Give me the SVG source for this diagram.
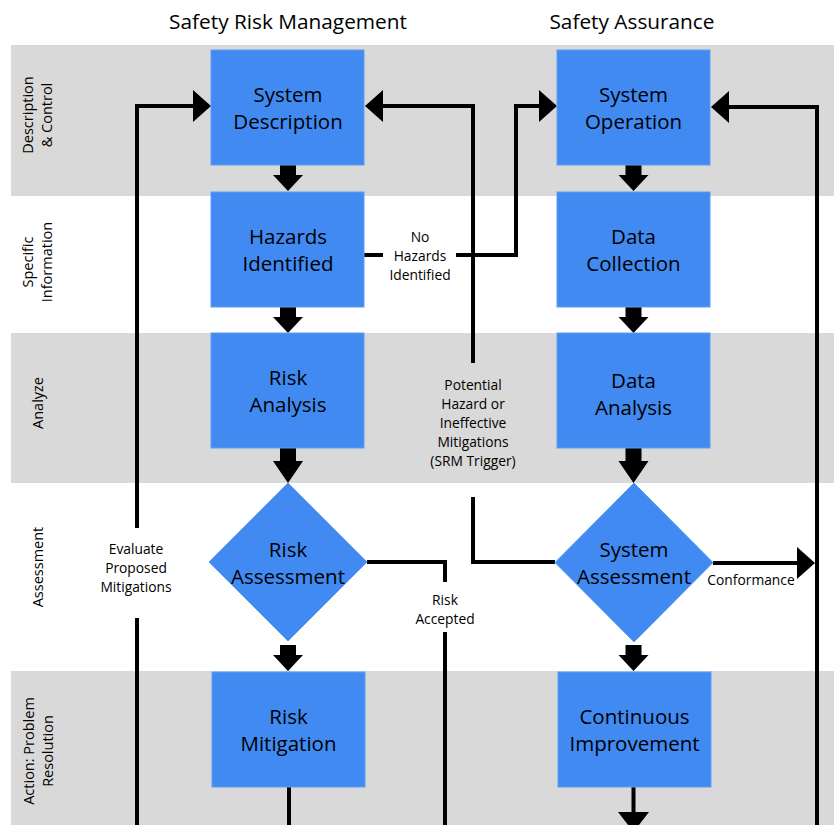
<svg xmlns="http://www.w3.org/2000/svg" width="834" height="825" viewBox="0 0 834 825">
<style>
  text { font-family: "Open Sans", "Noto Sans", "Liberation Sans", sans-serif; fill: #000; }
  .hdr { font-size: 20.8px; text-anchor: middle; }
  .band { font-size: 14.5px; text-anchor: middle; }
  .node { font-size: 20.5px; text-anchor: middle; }
  .lbl { font-size: 13.8px; text-anchor: middle; }
  .shape { fill: #418AF2; stroke: #5E9CF5; stroke-width: 1; }
  .conn { fill: none; stroke: #000; stroke-width: 4; }
  .head { fill: #000; }
</style>
<rect width="834" height="825" fill="#fff"/>
<g id="bands">
  <rect x="11" y="45" width="823" height="151" fill="#D9D9D9"/>
  <rect x="11" y="333" width="823" height="150" fill="#D9D9D9"/>
  <rect x="11" y="671" width="823" height="154" fill="#D9D9D9"/>
  <text class="band" transform="rotate(-90)" x="-115" y="33">Description</text>
  <text class="band" transform="rotate(-90)" x="-115" y="52">&amp; Control</text>
  <text class="band" transform="rotate(-90)" x="-262" y="33">Specific</text>
  <text class="band" transform="rotate(-90)" x="-262" y="52">Information</text>
  <text class="band" transform="rotate(-90)" x="-403" y="43">Analyze</text>
  <text class="band" transform="rotate(-90)" x="-567" y="43">Assessment</text>
  <text class="band" transform="rotate(-90)" x="-751" y="34">Action: Problem</text>
  <text class="band" transform="rotate(-90)" x="-751" y="53">Resolution</text>
</g>
<g id="headers">
  <text class="hdr" x="288" y="29">Safety Risk Management</text>
  <text class="hdr" x="632" y="29">Safety Assurance</text>
</g>
<g id="connectors">
  <g class="head">
    <polygon points="280,165 296,165 296,175 303,175 288,191 273,175 280,175"/>
    <polygon points="280,307 296,307 296,317 303,317 288,333 273,317 280,317"/>
    <polygon points="280,448 296,448 296,461 303,461 288,483 273,461 280,461"/>
    <polygon points="280,645 296,645 296,655 303,655 288,671 273,655 280,655"/>
    <polygon points="625.5,165 641.5,165 641.5,175 648.5,175 633.5,191 618.5,175 625.5,175"/>
    <polygon points="625.5,307 641.5,307 641.5,317 648.5,317 633.5,333 618.5,317 625.5,317"/>
    <polygon points="625.5,448 641.5,448 641.5,461 648.5,461 633.5,483 618.5,461 625.5,461"/>
    <polygon points="625.5,645 641.5,645 641.5,655 648.5,655 633.5,671 618.5,655 625.5,655"/>
  </g>
  <path class="conn" d="M137,825 V618 M137,528 V106 H194"/>
  <polygon class="head" points="211,106 193,90 193,122"/>
  <path class="conn" d="M555,562 H473 V497 M473,363 V106 H382"/>
  <polygon class="head" points="365,106 383,90 383,122"/>
  <path class="conn" d="M364,255 H383 M456,255 H516 V106 H540"/>
  <polygon class="head" points="557,106 539,90 539,122"/>
  <path class="conn" d="M817,825 V107 H728"/>
  <polygon class="head" points="711,107 729,91 729,123"/>
  <path class="conn" d="M713,563 H798"/>
  <polygon class="head" points="815,563 797,547 797,579"/>
  <path class="conn" d="M367,562 H445 V582 M445,632 V825"/>
  <path class="conn" d="M289,787 V825"/>
  <path class="conn" d="M633.5,787 V813"/>
  <polygon class="head" points="618,812 649,812 633.5,832"/>
</g>
<g id="labels">
  <text class="lbl" x="420" y="242">No</text>
  <text class="lbl" x="420" y="261">Hazards</text>
  <text class="lbl" x="420" y="280">Identified</text>
  <text class="lbl" x="473" y="390">Potential</text>
  <text class="lbl" x="473" y="409">Hazard or</text>
  <text class="lbl" x="473" y="428">Ineffective</text>
  <text class="lbl" x="473" y="447">Mitigations</text>
  <text class="lbl" x="473" y="466">(SRM Trigger)</text>
  <text class="lbl" x="136" y="554">Evaluate</text>
  <text class="lbl" x="136" y="573">Proposed</text>
  <text class="lbl" x="136" y="592">Mitigations</text>
  <text class="lbl" x="445" y="605">Risk</text>
  <text class="lbl" x="445" y="624">Accepted</text>
  <text class="lbl" x="751" y="585">Conformance</text>
</g>
<g id="system-description">
  <rect class="shape" x="211" y="50" width="153" height="115"/>
  <text class="node" x="288" y="102">System</text>
  <text class="node" x="288" y="129">Description</text>
</g>
<g id="hazards-identified">
  <rect class="shape" x="211" y="192" width="153" height="115"/>
  <text class="node" x="288" y="244">Hazards</text>
  <text class="node" x="288" y="271">Identified</text>
</g>
<g id="risk-analysis">
  <rect class="shape" x="211" y="333" width="153" height="115"/>
  <text class="node" x="288" y="385">Risk</text>
  <text class="node" x="288" y="412">Analysis</text>
</g>
<g id="risk-assessment">
  <polygon class="shape" points="288,483 367,562 288,641 209,562"/>
  <text class="node" x="288" y="557">Risk</text>
  <text class="node" x="288" y="584">Assessment</text>
</g>
<g id="risk-mitigation">
  <rect class="shape" x="212" y="672" width="153" height="115"/>
  <text class="node" x="288.5" y="724">Risk</text>
  <text class="node" x="288.5" y="751">Mitigation</text>
</g>
<g id="system-operation">
  <rect class="shape" x="557" y="50" width="153" height="115"/>
  <text class="node" x="633.5" y="102">System</text>
  <text class="node" x="633.5" y="129">Operation</text>
</g>
<g id="data-collection">
  <rect class="shape" x="557" y="192" width="153" height="115"/>
  <text class="node" x="633.5" y="244">Data</text>
  <text class="node" x="633.5" y="271">Collection</text>
</g>
<g id="data-analysis">
  <rect class="shape" x="557" y="333" width="153" height="115"/>
  <text class="node" x="633.5" y="388">Data</text>
  <text class="node" x="633.5" y="415">Analysis</text>
</g>
<g id="system-assessment">
  <polygon class="shape" points="634,483 713,562.5 634,642 555,562.5"/>
  <text class="node" x="634" y="557">System</text>
  <text class="node" x="634" y="584">Assessment</text>
</g>
<g id="continuous-improvement">
  <rect class="shape" x="558" y="672" width="153" height="115"/>
  <text class="node" x="634.5" y="724">Continuous</text>
  <text class="node" x="634.5" y="751">Improvement</text>
</g>
</svg>
